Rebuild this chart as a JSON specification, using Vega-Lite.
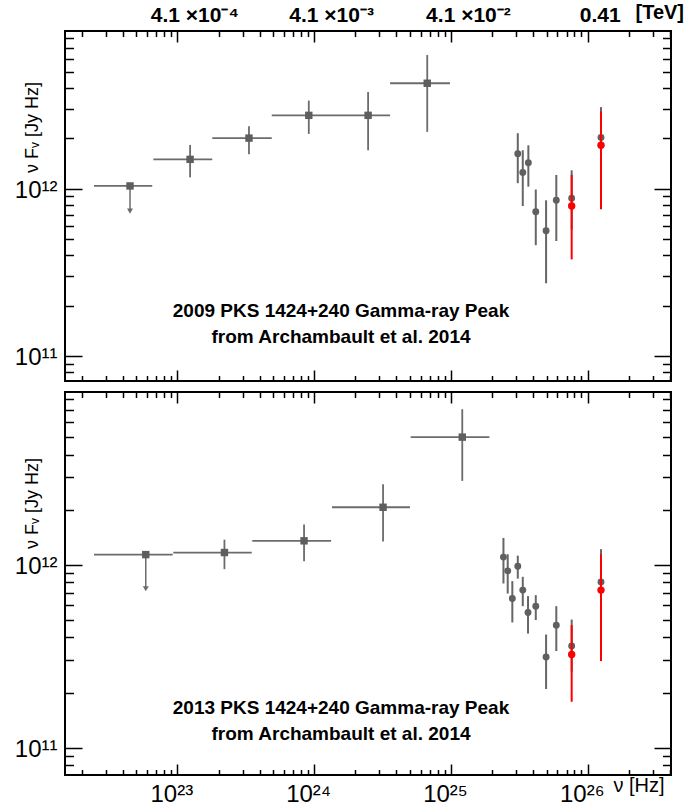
{
  "$schema": "https://vega.github.io/schema/vega-lite/v6.json",
  "autosize": "pad",
  "padding": {"left": 13, "top": 1, "right": 5, "bottom": 5},
  "spacing": 0,
  "config": {
    "view": {"stroke": "black", "strokeWidth": 2},
    "axis": {"labelFont": "Liberation Sans", "titleFont": "Liberation Sans", "labelColor": "black", "titleColor": "black", "tickColor": "black", "tickWidth": 1.5, "tickOpacity": 1, "domain": false, "grid": false, "labelOverlap": false, "labelFlush": false, "labelBound": false},
    "title": {"font": "Liberation Sans", "fontSize": 19, "fontWeight": "bold", "color": "black", "lineHeight": 26, "frame": "group", "anchor": "middle"}
  },
  "datasets": {
    "sed": [
      {"yr": 2009, "s": "LAT", "nu": 4.51e22, "nlo": 2.46e22, "nhi": 6.56e22, "f": 1.04e12, "ul": 7.35e11},
      {"yr": 2009, "s": "LAT", "nu": 1.24e23, "nlo": 6.68e22, "nhi": 1.80e23, "f": 1.50e12, "flo": 1.17e12, "fhi": 1.83e12},
      {"yr": 2009, "s": "LAT", "nu": 3.34e23, "nlo": 1.80e23, "nhi": 4.90e23, "f": 2.01e12, "flo": 1.61e12, "fhi": 2.37e12},
      {"yr": 2009, "s": "LAT", "nu": 9.14e23, "nlo": 4.90e23, "nhi": 1.35e24, "f": 2.75e12, "flo": 2.13e12, "fhi": 3.37e12},
      {"yr": 2009, "s": "LAT", "nu": 2.48e24, "nlo": 1.35e24, "nhi": 3.59e24, "f": 2.75e12, "flo": 1.70e12, "fhi": 3.79e12},
      {"yr": 2009, "s": "LAT", "nu": 6.71e24, "nlo": 3.59e24, "nhi": 9.84e24, "f": 4.28e12, "flo": 2.19e12, "fhi": 6.32e12},
      {"yr": 2009, "s": "VER", "nu": 3.08e25, "f": 1.62e12, "flo": 1.08e12, "fhi": 2.15e12},
      {"yr": 2009, "s": "VER", "nu": 3.35e25, "f": 1.25e12, "flo": 7.88e11, "fhi": 1.70e12},
      {"yr": 2009, "s": "VER", "nu": 3.68e25, "f": 1.43e12, "flo": 1.03e12, "fhi": 1.82e12},
      {"yr": 2009, "s": "VER", "nu": 4.17e25, "f": 7.28e11, "flo": 4.60e11, "fhi": 9.9e11},
      {"yr": 2009, "s": "VER", "nu": 4.96e25, "f": 5.61e11, "flo": 2.72e11, "fhi": 8.53e11},
      {"yr": 2009, "s": "VER", "nu": 5.89e25, "f": 8.53e11, "flo": 4.87e11, "fhi": 1.21e12},
      {"yr": 2009, "s": "VER", "nu": 7.63e25, "f": 8.79e11, "flo": 5.7e11, "fhi": 1.29e12},
      {"yr": 2009, "s": "VER", "nu": 1.25e26, "f": 2.03e12, "flo": 1.28e12, "fhi": 3.08e12},
      {"yr": 2009, "s": "RED", "nu": 7.63e25, "f": 7.88e11, "flo": 3.78e11, "fhi": 1.21e12},
      {"yr": 2009, "s": "RED", "nu": 1.25e26, "f": 1.82e12, "flo": 7.54e11, "fhi": 2.90e12},
      {"yr": 2013, "s": "LAT", "nu": 5.88e22, "nlo": 2.46e22, "nhi": 9.25e22, "f": 1.135e12, "ul": 7.38e11},
      {"yr": 2013, "s": "LAT", "nu": 2.21e23, "nlo": 9.35e22, "nhi": 3.50e23, "f": 1.165e12, "flo": 9.45e11, "fhi": 1.37e12},
      {"yr": 2013, "s": "LAT", "nu": 8.44e23, "nlo": 3.53e23, "nhi": 1.33e24, "f": 1.35e12, "flo": 1.045e12, "fhi": 1.66e12},
      {"yr": 2013, "s": "LAT", "nu": 3.19e24, "nlo": 1.35e24, "nhi": 5.02e24, "f": 2.06e12, "flo": 1.34e12, "fhi": 2.75e12},
      {"yr": 2013, "s": "LAT", "nu": 1.21e25, "nlo": 5.08e24, "nhi": 1.91e25, "f": 4.98e12, "flo": 2.87e12, "fhi": 7.08e12},
      {"yr": 2013, "s": "VER", "nu": 2.42e25, "f": 1.10e12, "flo": 7.89e11, "fhi": 1.40e12},
      {"yr": 2013, "s": "VER", "nu": 2.60e25, "f": 9.25e11, "flo": 6.95e11, "fhi": 1.14e12},
      {"yr": 2013, "s": "VER", "nu": 2.81e25, "f": 6.53e11, "flo": 4.83e11, "fhi": 8.13e11},
      {"yr": 2013, "s": "VER", "nu": 3.08e25, "f": 9.81e11, "flo": 8.39e11, "fhi": 1.12e12},
      {"yr": 2013, "s": "VER", "nu": 3.35e25, "f": 7.26e11, "flo": 5.93e11, "fhi": 8.58e11},
      {"yr": 2013, "s": "VER", "nu": 3.66e25, "f": 5.47e11, "flo": 4.20e11, "fhi": 6.73e11},
      {"yr": 2013, "s": "VER", "nu": 4.17e25, "f": 5.93e11, "flo": 4.98e11, "fhi": 6.81e11},
      {"yr": 2013, "s": "VER", "nu": 4.96e25, "f": 3.13e11, "flo": 2.09e11, "fhi": 4.15e11},
      {"yr": 2013, "s": "VER", "nu": 5.89e25, "f": 4.67e11, "flo": 3.37e11, "fhi": 5.93e11},
      {"yr": 2013, "s": "VER", "nu": 7.63e25, "f": 3.59e11, "flo": 2.6e11, "fhi": 5.01e11},
      {"yr": 2013, "s": "VER", "nu": 1.25e26, "f": 8.05e11, "flo": 5.2e11, "fhi": 1.215e12},
      {"yr": 2013, "s": "RED", "nu": 7.63e25, "f": 3.23e11, "flo": 1.78e11, "fhi": 4.67e11},
      {"yr": 2013, "s": "RED", "nu": 1.25e26, "f": 7.26e11, "flo": 2.97e11, "fhi": 1.14e12}
    ]
  },
  "vconcat": [
    {
      "width": 606, "height": 350,
      "data": {"name": "sed"},
      "transform": [{"filter": "datum.yr == 2009"}],
      "title": {"text": ["2009 PKS 1424+240 Gamma-ray Peak", "from Archambault et al. 2014"], "orient": "bottom", "offset": -84, "dx": -27},
      "resolve": {"axis": {"x": "independent", "y": "independent"}},
      "layer": [
        {
          "transform": [{"filter": "datum.s == 'LAT'"}],
          "mark": {"type": "rule", "color": "#6b6b6b", "strokeWidth": 1.8},
          "encoding": {
            "x": {"field": "nlo", "type": "quantitative", "scale": {"type": "log", "domain": [1.51e22, 4.06e26], "nice": false},
              "axis": {"orient": "bottom", "values": [2e22,3e22,4e22,5e22,6e22,7e22,8e22,9e22,1e23,2e23,3e23,4e23,5e23,6e23,7e23,8e23,9e23,1e24,2e24,3e24,4e24,5e24,6e24,7e24,8e24,9e24,1e25,2e25,3e25,4e25,5e25,6e25,7e25,8e25,9e25,1e26,2e26,3e26,4e26], "labels": false, "ticks": true, "title": null,
                "tickSize": 11, "offset": -11,
                "tickDash": {"condition": {"test": "datum.value == 1e23 || datum.value == 1e24 || datum.value == 1e25 || datum.value == 1e26", "value": [30, 0]}, "value": [0, 5.5, 5.5, 0]}}},
            "x2": {"field": "nhi"},
            "y": {"field": "f", "type": "quantitative", "scale": {"type": "log", "domain": [7.08e10, 8.79e12], "nice": false},
              "axis": {"orient": "left", "values": [8e10,9e10,1e11,2e11,3e11,4e11,5e11,6e11,7e11,8e11,9e11,1e12,2e12,3e12,4e12,5e12,6e12,7e12,8e12], "ticks": true,
                "tickSize": 17, "offset": -17,
                "tickDash": {"condition": {"test": "datum.value == 1e11 || datum.value == 1e12", "value": [40, 0]}, "value": [0, 8.5, 8.5, 0]},
                "labelExpr": "datum.value == 1e11 ? '10¹¹' : datum.value == 1e12 ? '10¹²' : ''", "labelAlign": "right", "labelBaseline": "middle", "labelPadding": 8, "labelOffset": 2, "labelFontSize": 24,
                "title": "ν Fᵥ [Jy Hz]", "titleFontSize": 18, "titleFontWeight": "normal", "titleX": -50, "titleY": 96, "titleAngle": 270, "titleAlign": "center", "titleBaseline": "middle"}}
          }
        },
        {
          "transform": [{"filter": "datum.s == 'LAT' && isValid(datum.flo)"}],
          "mark": {"type": "rule", "color": "#6b6b6b", "strokeWidth": 1.8},
          "encoding": {
            "x": {"field": "nu", "type": "quantitative", "scale": {"type": "log", "domain": [1.51e22, 4.06e26], "nice": false},
              "axis": {"orient": "top", "values": [2e22,3e22,4e22,5e22,6e22,7e22,8e22,9e22,1e23,2e23,3e23,4e23,5e23,6e23,7e23,8e23,9e23,1e24,2e24,3e24,4e24,5e24,6e24,7e24,8e24,9e24,1e25,2e25,3e25,4e25,5e25,6e25,7e25,8e25,9e25,1e26,2e26,3e26,4e26], "ticks": true,
                "tickSize": 11, "offset": -11,
                "tickDash": {"condition": {"test": "datum.value == 1e23 || datum.value == 1e24 || datum.value == 1e25 || datum.value == 1e26", "value": [30, 0]}, "value": [0, 5.5, 5.5, 0]},
                "labelExpr": "datum.value == 1e23 ? '4.1 ×10⁻⁴' : datum.value == 1e24 ? '4.1 ×10⁻³' : datum.value == 1e25 ? '4.1 ×10⁻²' : datum.value == 1e26 ? '0.41' : ''",
                "labelAlign": "center", "labelOffset": {"condition": {"test": "datum.value > 5e25", "value": 12}, "value": 17}, "labelFontSize": 21, "labelFontWeight": "bold", "labelPadding": 6,
                "title": "[TeV]", "titleFontSize": 20, "titleFontWeight": "bold", "titleX": 570, "titleY": -20, "titleAlign": "left", "titleBaseline": "bottom"}},
            "y": {"field": "flo", "type": "quantitative", "scale": {"type": "log", "domain": [7.08e10, 8.79e12], "nice": false},
              "axis": {"orient": "right", "values": [8e10,9e10,1e11,2e11,3e11,4e11,5e11,6e11,7e11,8e11,9e11,1e12,2e12,3e12,4e12,5e12,6e12,7e12,8e12], "labels": false, "ticks": true, "title": null,
                "tickSize": 17, "offset": -17,
                "tickDash": {"condition": {"test": "datum.value == 1e11 || datum.value == 1e12", "value": [40, 0]}, "value": [0, 8.5, 8.5, 0]}}},
            "y2": {"field": "fhi"}
          }
        },
        {
          "transform": [{"filter": "isValid(datum.ul)"}],
          "mark": {"type": "rule", "color": "#6b6b6b", "strokeWidth": 1.5},
          "encoding": {
            "x": {"field": "nu", "type": "quantitative", "axis": null},
            "y": {"field": "f", "type": "quantitative", "axis": null},
            "y2": {"field": "ul"}
          }
        },
        {
          "transform": [{"filter": "isValid(datum.ul)"}],
          "mark": {"type": "point", "shape": "triangle-down", "filled": true, "color": "#6b6b6b", "size": 35, "opacity": 1},
          "encoding": {
            "x": {"field": "nu", "type": "quantitative", "axis": null},
            "y": {"field": "ul", "type": "quantitative", "axis": null}
          }
        },
        {
          "transform": [{"filter": "datum.s == 'LAT'"}],
          "mark": {"type": "point", "shape": "square", "filled": true, "color": "#5e5e5e", "size": 55, "opacity": 1},
          "encoding": {
            "x": {"field": "nu", "type": "quantitative", "axis": null},
            "y": {"field": "f", "type": "quantitative", "axis": null}
          }
        },
        {
          "transform": [{"filter": "datum.s == 'VER'"}],
          "mark": {"type": "rule", "color": "#666666", "strokeWidth": 2},
          "encoding": {
            "x": {"field": "nu", "type": "quantitative", "axis": null},
            "y": {"field": "flo", "type": "quantitative", "axis": null},
            "y2": {"field": "fhi"}
          }
        },
        {
          "transform": [{"filter": "datum.s == 'VER'"}],
          "mark": {"type": "point", "shape": "circle", "filled": true, "color": "#606060", "size": 48, "opacity": 1},
          "encoding": {
            "x": {"field": "nu", "type": "quantitative", "axis": null},
            "y": {"field": "f", "type": "quantitative", "axis": null}
          }
        },
        {
          "transform": [{"filter": "datum.s == 'RED'"}],
          "mark": {"type": "rule", "color": "#ff0000", "strokeWidth": 2},
          "encoding": {
            "x": {"field": "nu", "type": "quantitative", "axis": null},
            "y": {"field": "flo", "type": "quantitative", "axis": null},
            "y2": {"field": "fhi"}
          }
        },
        {
          "transform": [{"filter": "datum.s == 'RED'"}],
          "mark": {"type": "point", "shape": "circle", "filled": true, "color": "#ff0000", "size": 55, "opacity": 1},
          "encoding": {
            "x": {"field": "nu", "type": "quantitative", "axis": null},
            "y": {"field": "f", "type": "quantitative", "axis": null}
          }
        }
      ]
    },
    {
      "width": 606, "height": 383,
      "data": {"name": "sed"},
      "transform": [{"filter": "datum.yr == 2013"}],
      "title": {"text": ["2013 PKS 1424+240 Gamma-ray Peak", "from Archambault et al. 2014"], "orient": "top", "offset": -355, "dx": -27},
      "resolve": {"axis": {"x": "independent", "y": "independent"}},
      "layer": [
        {
          "transform": [{"filter": "datum.s == 'LAT'"}],
          "mark": {"type": "rule", "color": "#6b6b6b", "strokeWidth": 1.8},
          "encoding": {
            "x": {"field": "nlo", "type": "quantitative", "scale": {"type": "log", "domain": [1.51e22, 4.06e26], "nice": false},
              "axis": {"orient": "bottom", "values": [2e22,3e22,4e22,5e22,6e22,7e22,8e22,9e22,1e23,2e23,3e23,4e23,5e23,6e23,7e23,8e23,9e23,1e24,2e24,3e24,4e24,5e24,6e24,7e24,8e24,9e24,1e25,2e25,3e25,4e25,5e25,6e25,7e25,8e25,9e25,1e26,2e26,3e26,4e26], "ticks": true,
                "tickSize": 11, "offset": -11,
                "tickDash": {"condition": {"test": "datum.value == 1e23 || datum.value == 1e24 || datum.value == 1e25 || datum.value == 1e26", "value": [30, 0]}, "value": [0, 5.5, 5.5, 0]},
                "labelExpr": "datum.value == 1e23 ? '10²³' : datum.value == 1e24 ? '10²⁴' : datum.value == 1e25 ? '10²⁵' : datum.value == 1e26 ? '10²⁶' : ''",
                "labelAlign": "center", "labelOffset": -6, "labelFontSize": 24, "labelPadding": 7, "labelBaseline": "top",
                "title": "ν [Hz]", "titleFontSize": 20, "titleFontWeight": "normal", "titleX": 548, "titleY": 11, "titleAlign": "left", "titleBaseline": "top"}},
            "x2": {"field": "nhi"},
            "y": {"field": "f", "type": "quantitative", "scale": {"type": "log", "domain": [7.08e10, 8.79e12], "nice": false},
              "axis": {"orient": "left", "values": [8e10,9e10,1e11,2e11,3e11,4e11,5e11,6e11,7e11,8e11,9e11,1e12,2e12,3e12,4e12,5e12,6e12,7e12,8e12], "ticks": true,
                "tickSize": 17, "offset": -17,
                "tickDash": {"condition": {"test": "datum.value == 1e11 || datum.value == 1e12", "value": [40, 0]}, "value": [0, 8.5, 8.5, 0]},
                "labelExpr": "datum.value == 1e11 ? '10¹¹' : datum.value == 1e12 ? '10¹²' : ''", "labelAlign": "right", "labelBaseline": "middle", "labelPadding": 8, "labelOffset": 2, "labelFontSize": 24,
                "title": "ν Fᵥ [Jy Hz]", "titleFontSize": 18, "titleFontWeight": "normal", "titleX": -50, "titleY": 111, "titleAngle": 270, "titleAlign": "center", "titleBaseline": "middle"}}
          }
        },
        {
          "transform": [{"filter": "datum.s == 'LAT' && isValid(datum.flo)"}],
          "mark": {"type": "rule", "color": "#6b6b6b", "strokeWidth": 1.8},
          "encoding": {
            "x": {"field": "nu", "type": "quantitative", "scale": {"type": "log", "domain": [1.51e22, 4.06e26], "nice": false},
              "axis": {"orient": "top", "values": [2e22,3e22,4e22,5e22,6e22,7e22,8e22,9e22,1e23,2e23,3e23,4e23,5e23,6e23,7e23,8e23,9e23,1e24,2e24,3e24,4e24,5e24,6e24,7e24,8e24,9e24,1e25,2e25,3e25,4e25,5e25,6e25,7e25,8e25,9e25,1e26,2e26,3e26,4e26], "labels": false, "ticks": true, "title": null,
                "tickSize": 11, "offset": -11,
                "tickDash": {"condition": {"test": "datum.value == 1e23 || datum.value == 1e24 || datum.value == 1e25 || datum.value == 1e26", "value": [30, 0]}, "value": [0, 5.5, 5.5, 0]}}},
            "y": {"field": "flo", "type": "quantitative", "scale": {"type": "log", "domain": [7.08e10, 8.79e12], "nice": false},
              "axis": {"orient": "right", "values": [8e10,9e10,1e11,2e11,3e11,4e11,5e11,6e11,7e11,8e11,9e11,1e12,2e12,3e12,4e12,5e12,6e12,7e12,8e12], "labels": false, "ticks": true, "title": null,
                "tickSize": 17, "offset": -17,
                "tickDash": {"condition": {"test": "datum.value == 1e11 || datum.value == 1e12", "value": [40, 0]}, "value": [0, 8.5, 8.5, 0]}}},
            "y2": {"field": "fhi"}
          }
        },
        {
          "transform": [{"filter": "isValid(datum.ul)"}],
          "mark": {"type": "rule", "color": "#6b6b6b", "strokeWidth": 1.5},
          "encoding": {
            "x": {"field": "nu", "type": "quantitative", "axis": null},
            "y": {"field": "f", "type": "quantitative", "axis": null},
            "y2": {"field": "ul"}
          }
        },
        {
          "transform": [{"filter": "isValid(datum.ul)"}],
          "mark": {"type": "point", "shape": "triangle-down", "filled": true, "color": "#6b6b6b", "size": 35, "opacity": 1},
          "encoding": {
            "x": {"field": "nu", "type": "quantitative", "axis": null},
            "y": {"field": "ul", "type": "quantitative", "axis": null}
          }
        },
        {
          "transform": [{"filter": "datum.s == 'LAT'"}],
          "mark": {"type": "point", "shape": "square", "filled": true, "color": "#5e5e5e", "size": 55, "opacity": 1},
          "encoding": {
            "x": {"field": "nu", "type": "quantitative", "axis": null},
            "y": {"field": "f", "type": "quantitative", "axis": null}
          }
        },
        {
          "transform": [{"filter": "datum.s == 'VER'"}],
          "mark": {"type": "rule", "color": "#666666", "strokeWidth": 2},
          "encoding": {
            "x": {"field": "nu", "type": "quantitative", "axis": null},
            "y": {"field": "flo", "type": "quantitative", "axis": null},
            "y2": {"field": "fhi"}
          }
        },
        {
          "transform": [{"filter": "datum.s == 'VER'"}],
          "mark": {"type": "point", "shape": "circle", "filled": true, "color": "#606060", "size": 48, "opacity": 1},
          "encoding": {
            "x": {"field": "nu", "type": "quantitative", "axis": null},
            "y": {"field": "f", "type": "quantitative", "axis": null}
          }
        },
        {
          "transform": [{"filter": "datum.s == 'RED'"}],
          "mark": {"type": "rule", "color": "#ff0000", "strokeWidth": 2},
          "encoding": {
            "x": {"field": "nu", "type": "quantitative", "axis": null},
            "y": {"field": "flo", "type": "quantitative", "axis": null},
            "y2": {"field": "fhi"}
          }
        },
        {
          "transform": [{"filter": "datum.s == 'RED'"}],
          "mark": {"type": "point", "shape": "circle", "filled": true, "color": "#ff0000", "size": 55, "opacity": 1},
          "encoding": {
            "x": {"field": "nu", "type": "quantitative", "axis": null},
            "y": {"field": "f", "type": "quantitative", "axis": null}
          }
        }
      ]
    }
  ]
}
